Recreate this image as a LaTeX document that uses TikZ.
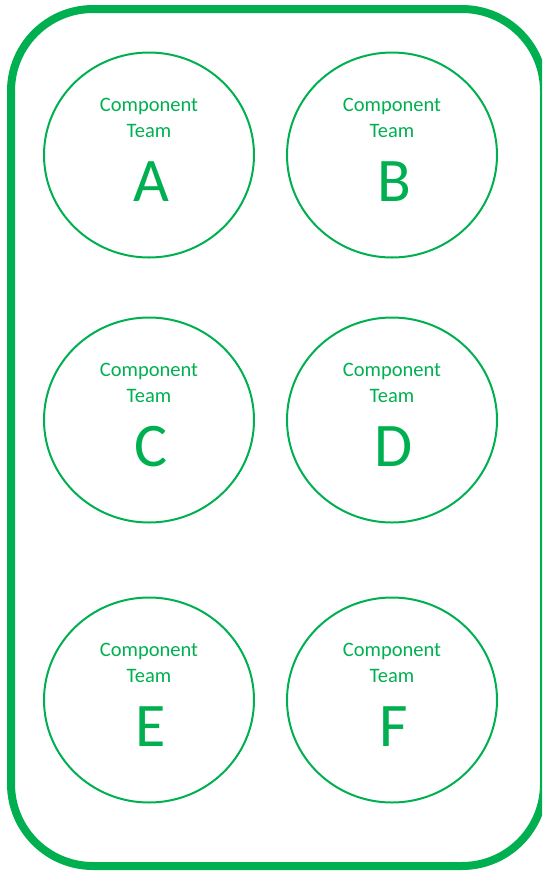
\documentclass[tikz,border=0pt]{standalone}
\usepackage{fontspec}
\setmainfont{Carlito}
\usetikzlibrary{shapes.geometric}
\definecolor{tgreen}{HTML}{00B050}
\begin{document}
\begin{tikzpicture}[x=1pt,y=-1pt,
  team/.style={draw=tgreen, line width=2pt, ellipse, minimum width=210pt, minimum height=205pt, inner sep=0pt},
  small/.style={text=tgreen, font=\fontsize{20.5}{24}\selectfont, inner sep=0pt, anchor=center},
  big/.style={text=tgreen, font=\fontsize{62}{70}\selectfont, inner sep=0pt, anchor=center}]
\useasboundingbox (0,0) rectangle (542,871);
\clip (0,0) rectangle (542,871);
\draw[tgreen, line width=8pt, rounded corners=82pt] (11,9) rectangle (544,866);
\foreach \n/\x/\y in {A/149/155, B/392/155, C/149/420, D/392/420, E/149/700, F/392/700}{
  \node[team] (c\n) at (\x,\y) {};
  \node[small] (l1\n) at (\x,\y-49) {Component};
  \node[small] (l2\n) at (\x,\y-24) {Team};
  \node[big] (t\n) at (\x+2,\y+27) {\n};
}
\end{tikzpicture}
\end{document}
